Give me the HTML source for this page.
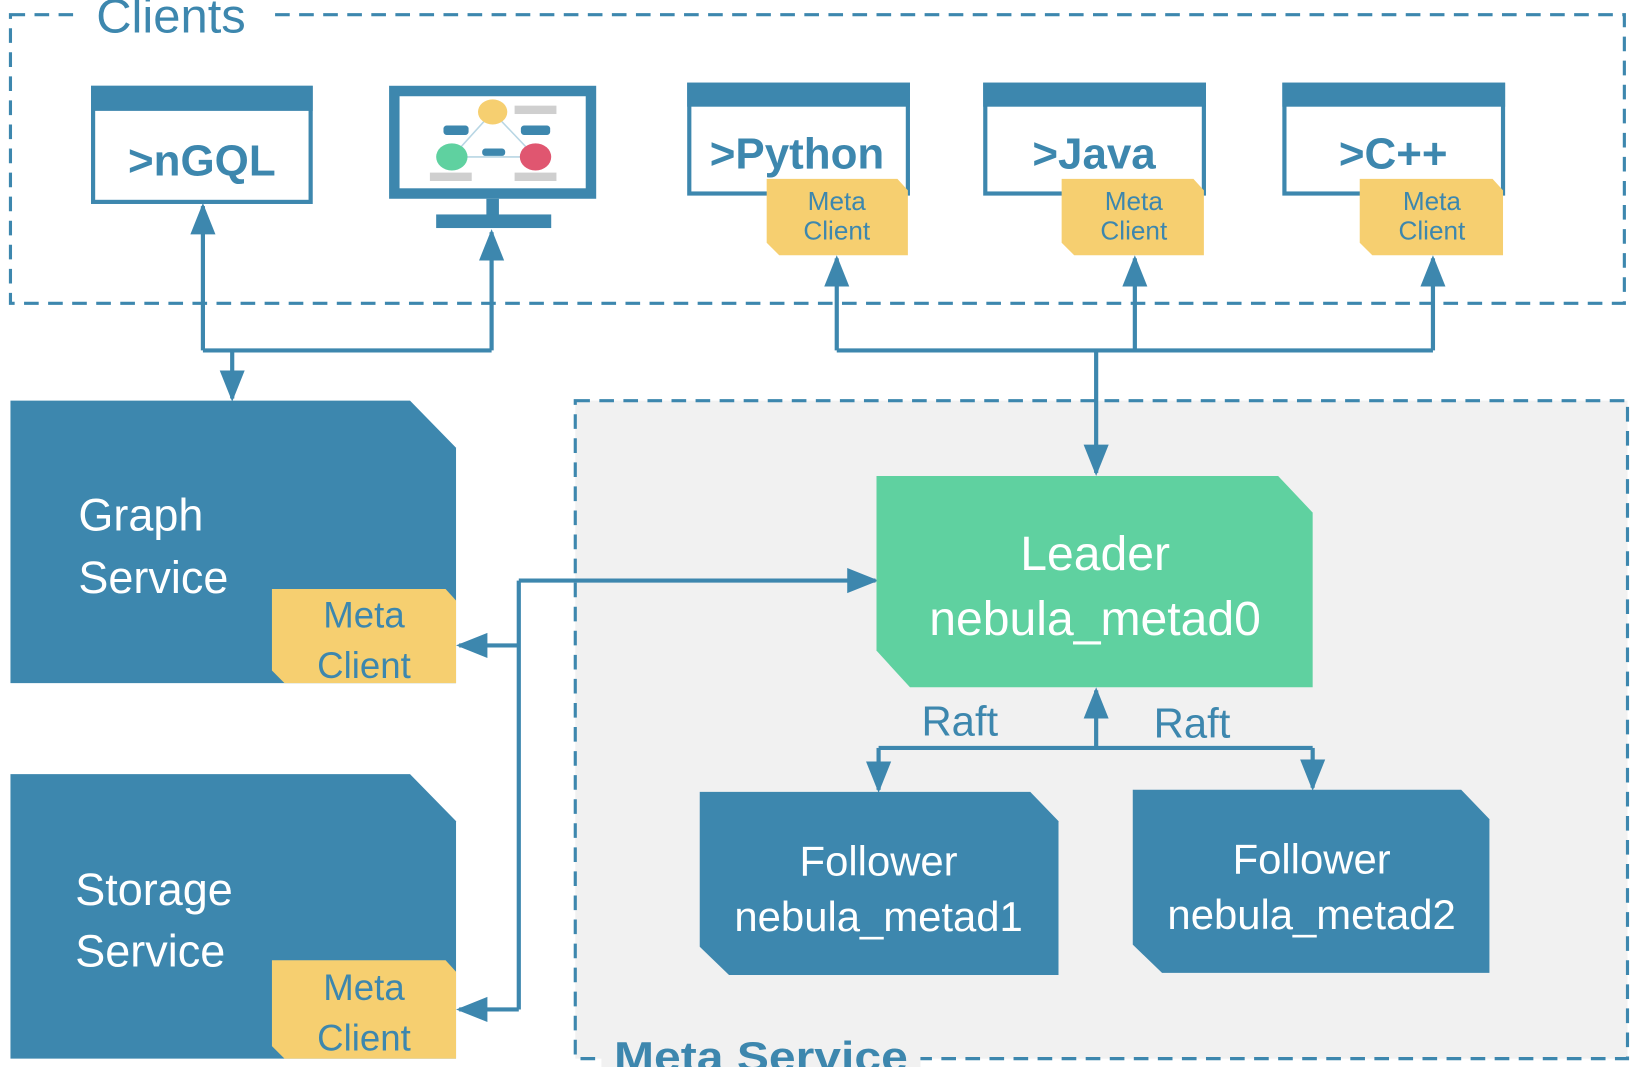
<!DOCTYPE html>
<html><head><meta charset="utf-8"><style>html,body{margin:0;padding:0;background:#fff;overflow:hidden}svg{display:block}</style></head>
<body>
<svg width="1639" height="1067" viewBox="0 0 1567 1020" preserveAspectRatio="none" xmlns="http://www.w3.org/2000/svg" font-family="Liberation Sans, sans-serif">
<defs>
<marker id="b" viewBox="0 0 10 10" refX="9" refY="5" markerWidth="30" markerHeight="30" markerUnits="userSpaceOnUse" orient="auto"><path d="M0,1L10,5L0,9z" fill="#3d87ae"/></marker>
</defs>
<rect x="550" y="383" width="1006" height="629" fill="#f1f1f1" stroke="#3d87ae" stroke-width="3" stroke-dasharray="14,9"/>
<rect x="10" y="14" width="1543" height="276" fill="none" stroke="#3d87ae" stroke-width="3" stroke-dasharray="14,9"/>
<rect x="70" y="0" width="185" height="30" fill="#fff"/>
<text x="92" y="31" font-size="46" fill="#3d87ae" textLength="143" lengthAdjust="spacingAndGlyphs">Clients</text>

<g fill="#fff" stroke="#3d87ae" stroke-width="4">
<rect x="89" y="84" width="208" height="109"/>
<rect x="659" y="81" width="209" height="104"/>
<rect x="942" y="81" width="209" height="104"/>
<rect x="1228" y="81" width="209" height="104"/>
</g>
<g fill="#3d87ae">
<rect x="87" y="82" width="212" height="24"/>
<rect x="657" y="79" width="213" height="23"/>
<rect x="940" y="79" width="213" height="23"/>
<rect x="1226" y="79" width="213" height="23"/>
</g>
<g font-weight="bold" font-size="42" fill="#3d87ae" text-anchor="middle">
<text x="193" y="168">&gt;nGQL</text>
<text x="762" y="161">&gt;Python</text>
<text x="1046" y="161">&gt;Java</text>
<text x="1332" y="161">&gt;C++</text>
</g>
<rect x="377" y="87" width="188" height="98" fill="#fff" stroke="#3d87ae" stroke-width="10"/>
<rect x="465" y="190" width="12" height="16" fill="#3d87ae"/>
<rect x="417" y="205" width="110" height="13" fill="#3d87ae"/>
<path d="M471,107L432,150L512,150Z" fill="none" stroke="#b8d6e4" stroke-width="1.5"/>
<ellipse cx="471" cy="107" rx="14" ry="12" fill="#f6cf70"/>
<ellipse cx="432" cy="150" rx="15" ry="13" fill="#5fd1a0"/>
<ellipse cx="512" cy="150" rx="15" ry="13" fill="#e05670"/>
<g fill="#3d87ae"><rect x="424" y="120" width="24" height="9" rx="3"/><rect x="498" y="120" width="28" height="9" rx="3"/><rect x="461" y="142" width="22" height="7" rx="3"/></g>
<g fill="#cfcfcf"><rect x="492" y="101" width="40" height="8"/><rect x="411" y="165" width="40" height="8"/><rect x="492" y="165" width="40" height="8"/></g>

<g fill="#f6cf70">
<path d="M733,171H858L868,182V244H745L733,232Z"/>
<path d="M1015,171H1141L1151,182V244H1027L1015,232Z"/>
<path d="M1300,171H1427L1437,182V244H1312L1300,232Z"/>
</g>
<g font-size="25" fill="#3d87ae" text-anchor="middle">
<text x="800" y="201">Meta</text><text x="800" y="229">Client</text>
<text x="1084" y="201">Meta</text><text x="1084" y="229">Client</text>
<text x="1369" y="201">Meta</text><text x="1369" y="229">Client</text>
</g>

<g fill="none" stroke="#3d87ae" stroke-width="4">
<path d="M194,335V197" marker-end="url(#b)"/>
<path d="M470,335V222" marker-end="url(#b)"/>
<path d="M194,335H470"/>
<path d="M222,335V381" marker-end="url(#b)"/>
<path d="M800,335V247" marker-end="url(#b)"/>
<path d="M1085,335V247" marker-end="url(#b)"/>
<path d="M1370,335V247" marker-end="url(#b)"/>
<path d="M800,335H1370"/>
<path d="M1048,335V452" marker-end="url(#b)"/>
<path d="M496,555V965"/>
<path d="M496,555H837" marker-end="url(#b)"/>
<path d="M496,617H439" marker-end="url(#b)"/>
<path d="M496,965H439" marker-end="url(#b)"/>
<path d="M1048,715V660" marker-end="url(#b)"/>
<path d="M840,715H1255"/>
<path d="M840,715V755" marker-end="url(#b)"/>
<path d="M1255,715V753" marker-end="url(#b)"/>
</g>

<path d="M10,383H392L436,428V653H10Z" fill="#3d87ae"/>
<path d="M10,740H392L436,785V1012H10Z" fill="#3d87ae"/>
<path d="M260,563H426L436,574V653H272L260,641Z" fill="#f6cf70"/>
<path d="M260,918H426L436,929V1012H272L260,1000Z" fill="#f6cf70"/>
<g font-size="43" fill="#fff">
<text x="75" y="507">Graph</text><text x="75" y="567">Service</text>
<text x="72" y="865">Storage</text><text x="72" y="924">Service</text>
</g>
<g font-size="35" fill="#3d87ae" text-anchor="middle">
<text x="348" y="600">Meta</text><text x="348" y="648">Client</text>
<text x="348" y="956">Meta</text><text x="348" y="1004">Client</text>
</g>

<path d="M838,455H1222L1255,490V657H870L838,622Z" fill="#5fd1a0"/>
<path d="M669,757H985L1012,785V932H697L669,905Z" fill="#3d87ae"/>
<path d="M1083,755H1397L1424,783V930H1111L1083,903Z" fill="#3d87ae"/>
<g font-size="46" fill="#fff" text-anchor="middle">
<text x="1047" y="545">Leader</text><text x="1047" y="607">nebula_metad0</text>
</g>
<g font-size="40" fill="#fff" text-anchor="middle">
<text x="840" y="837">Follower</text><text x="840" y="890">nebula_metad1</text>
<text x="1254" y="835">Follower</text><text x="1254" y="888">nebula_metad2</text>
</g>
<g font-size="40" fill="#3d87ae">
<text x="881" y="703">Raft</text><text x="1103" y="705">Raft</text>
</g>
<rect x="575" y="995" width="305" height="25" fill="#f1f1f1"/>
<text x="587" y="1024" font-size="40" font-weight="bold" fill="#3d87ae" textLength="281" lengthAdjust="spacingAndGlyphs">Meta Service</text>
</svg>
</body></html>
